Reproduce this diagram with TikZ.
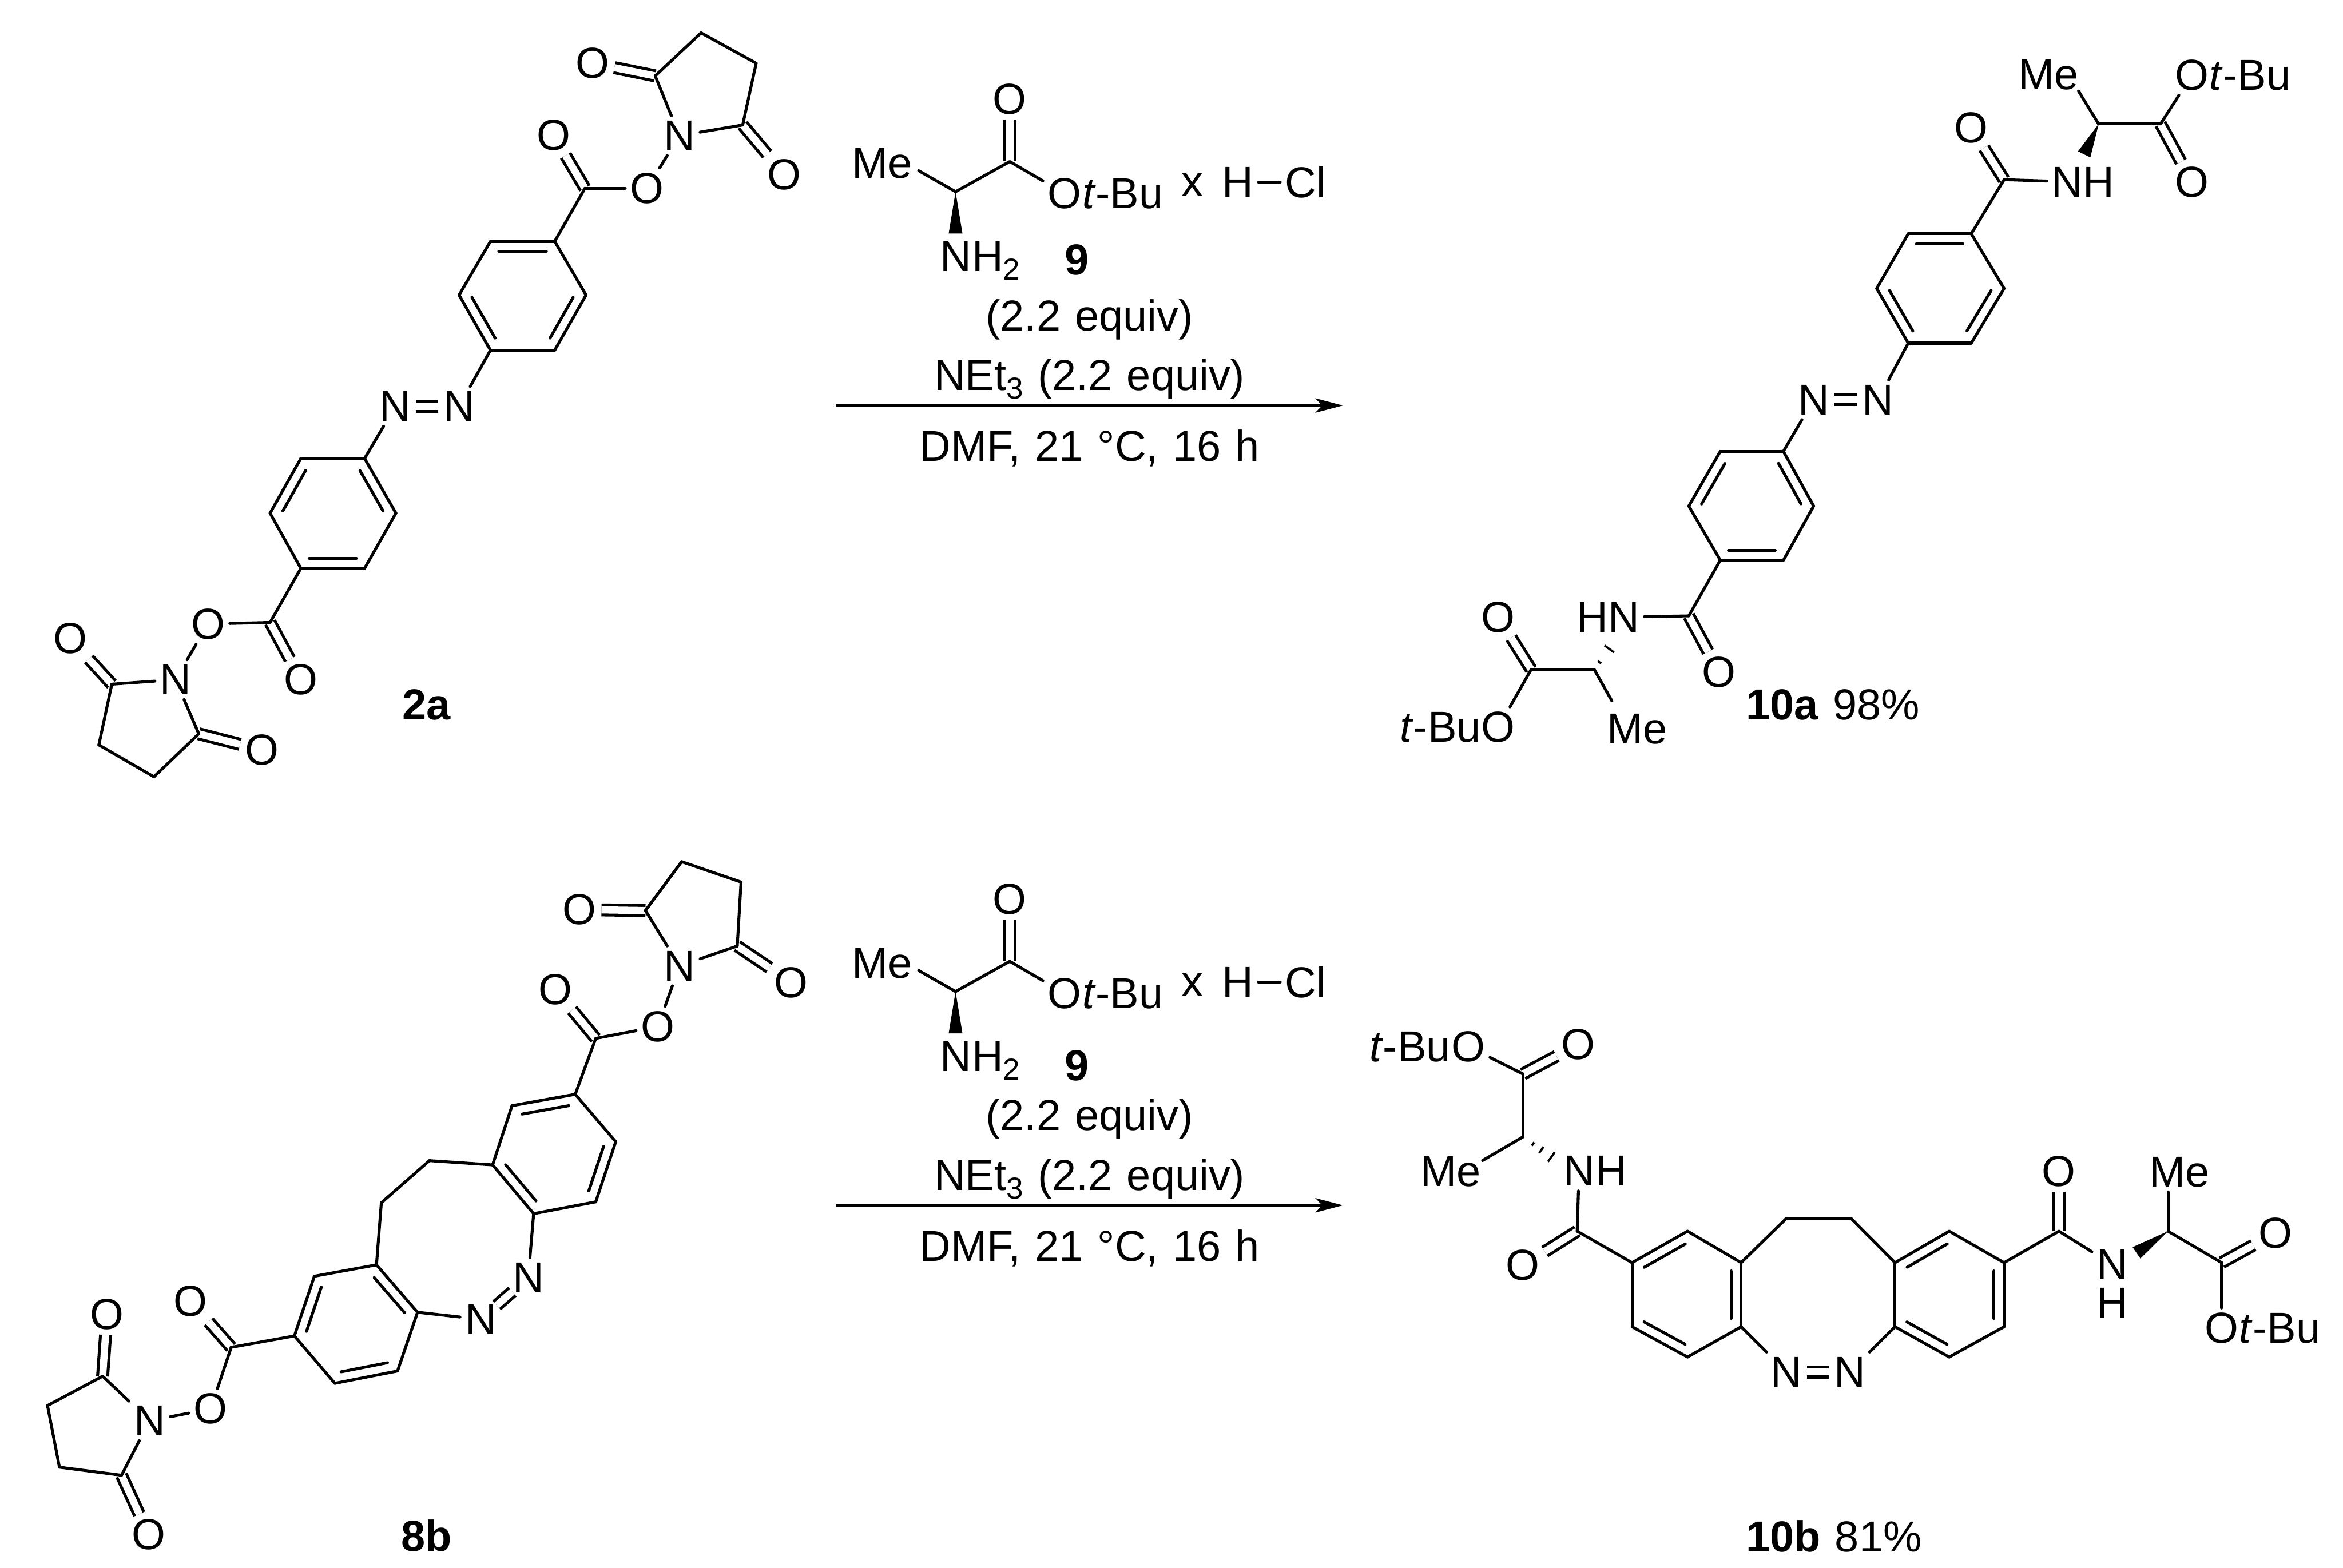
\documentclass[tikz,border=0pt]{standalone}
\usepackage{fontspec}
\setmainfont[WordSpace=1.2]{Liberation Sans}
\usetikzlibrary{calc,arrows.meta}
\newcommand\subsc[1]{\raisebox{-0.2em}{\fontsize{16.3}{16}\selectfont #1}}
\tikzset{
  bond/.style={line width=0.055cm,line cap=round,line join=round},
  dbl/.style={line width=0.055cm,line cap=butt,double=white,double distance=0.135cm},
  atom/.style={font=\fontsize{23.3}{26}\selectfont,inner sep=2.5pt},
  tailr/.style={font=\fontsize{23.3}{26}\selectfont,inner sep=0pt,anchor=base west,xshift=-2.5pt},
  taill/.style={font=\fontsize{23.3}{26}\selectfont,inner sep=0pt,anchor=base east,xshift=2.5pt},
  txt/.style={font=\fontsize{23.3}{26}\selectfont,inner sep=0pt,anchor=base},
  txtw/.style={font=\fontsize{23.3}{26}\selectfont,inner sep=0pt,anchor=base west},
  rxn/.style={line width=0.05cm,-{Stealth[length=0.52cm,width=0.27cm,inset=0.13cm]}},
  zA/.style={x=0.010204cm,y=-0.0095663cm},
  zB/.style={x=0.010204cm,y=-0.0089541cm},
  zC/.style={x=0.011913cm,y=-0.0095663cm},
  zD/.style={x=0.011913cm,y=-0.0074235cm},
  zE/.style={x=0.0066964cm,y=-0.005102cm},
}
\newcommand\innerb[2]{\draw[bond] ($(#1)!0.13!(#2)!0.19cm!90:(#2)$) -- ($(#1)!0.87!(#2)!0.19cm!90:(#2)$);}
\newcommand\wedgeb[3]{\fill (#1) -- ($(#2)!#3!90:(#1)$) -- ($(#2)!#3!-90:(#1)$) -- cycle;}
\newcommand\hashb[3]{\foreach \t in {#3}{\draw[line width=0.04cm] ($(#1)!\t!(#2)!{\t*0.13cm}!90:(#2)$) -- ($(#1)!\t!(#2)!{\t*0.13cm}!-90:(#2)$);}}
\newcommand\reagentblock[2]{%
  \foreach \n/\x/\y in {ca/382/515,cb/535/403,mee/278/437,wed/382/670,ax1/45/1308,ax2/1475/1308}
    {\coordinate (#1\n) at (\x,\y);}
  \node[atom] (#1me) at (175,410) {Me};
  \node[atom] (#1o) at (535,172) {O};
  \node[atom] (#1oe) at (690,522) {O};
  \node[tailr] (#1tb) at (#1oe.base east) {\textit{t}-Bu};
  \node[atom] (#1n) at (382,755) {N};
  \node[tailr] (#1h2) at (#1n.base east) {H\subsc{2}};
  \node[atom] (#1x) at (1050,490) {x};
  \node[atom] (#1h) at (1178,480) {H};
  \node[atom] (#1cl) at (1370,480) {Cl};
  \node[txt,font=\fontsize{23.3}{26}\selectfont\bfseries] (#1nine) at (725,#2) {9};
  \node[txt] (#1eq) at (760,1030) {(2.2 equiv)};
  \node[txt] (#1net) at (760,1252) {NEt\subsc{3} (2.2 equiv)};
  \node[txt] (#1dmf) at (760,1515) {DMF, 21 °C, 16 h};
  \draw[dbl] (#1cb) -- (#1o);
  \draw[bond] (#1mee) -- (#1ca) -- (#1cb) -- (#1oe);
  \wedgeb{#1ca}{#1wed}{0.13cm}
  \draw[bond] (#1h) -- (#1cl);
  \draw[rxn] (#1ax1) -- (#1ax2);
}
\begin{document}
\begin{tikzpicture}
\path[use as bounding box] (0,0) rectangle (44.28cm,-29.64cm);

% ---------- 2a ----------
\begin{scope}[zA]
\foreach \n/\x/\y in {a1/1213/150,a2/1298/65,a3/1400/125,a4/1375/247,a5/1083/372,
  a6/1027/477,a7/908/477,a8/850/583,a9/908/692,a10/1027/692,a11/1085/583,
  a12/675/906,a13/557/906,a14/500/1014,a15/557/1123,a16/675/1123,a17/733/1014,
  a18/500/1230,a19/207/1352,a20/183/1472,a21/285/1535,a22/368/1450}
  {\coordinate (\n) at (\x,\y);}
\node[atom] (an1) at (1258,268) {N};
\node[atom] (ao1) at (1097,125) {O};
\node[atom] (ao2) at (1452,345) {O};
\node[atom] (ao3) at (1198,372) {O};
\node[atom] (ao4) at (1025,267) {O};
\node[atom] (an2) at (850,803) {N};
\node[atom] (an3) at (732,803) {N};
\node[atom] (ao5) at (385,1233) {O};
\node[atom] (ao6) at (557,1343) {O};
\node[atom] (an4) at (325,1343) {N};
\node[atom] (ao7) at (130,1262) {O};
\node[atom] (ao8) at (485,1482) {O};
\node[txt,font=\fontsize{23.3}{26}\selectfont\bfseries] (alab) at (790,1422) {2a};
\foreach \a/\b in {a1/ao1,a4/ao2,a5/ao4,an2/an3,a18/ao6,a19/ao7,a22/ao8}
  {\draw[dbl] (\a) -- (\b);}
\foreach \a/\b in {an1/a1,a1/a2,a2/a3,a3/a4,a4/an1,an1/ao3,ao3/a5,a5/a6,
  a6/a7,a7/a8,a8/a9,a9/a10,a10/a11,a11/a6,a9/an2,an3/a12,
  a12/a13,a13/a14,a14/a15,a15/a16,a16/a17,a17/a12,a15/a18,a18/ao5,ao5/an4,
  an4/a19,a19/a20,a20/a21,a21/a22,a22/an4}
  {\draw[bond] (\a) -- (\b);}
\innerb{a6}{a7}\innerb{a8}{a9}\innerb{a10}{a11}
\innerb{a13}{a14}\innerb{a15}{a16}\innerb{a17}{a12}
\end{scope}

% ---------- 8b ----------
\begin{scope}[shift={(0cm,-15.6cm)},zB]
\foreach \n/\x/\y in {b1/1195/180,b2/1262/77,b3/1372/120,b4/1365/255,b5/1103/450,
  b6/1065/568,b7/948/592,b8/912/717,b9/988/820,b10/1103/795,b11/1140/668,
  b12/795/708,b13/706/797,
  b14/697/928,b15/582/952,b16/545/1078,b17/620/1178,b18/736/1152,b19/773/1028,
  b20/428/1102,b21/190/1163,b22/88/1225,b23/110/1355,b24/225/1372}
  {\coordinate (\n) at (\x,\y);}
\node[atom] (bn1) at (1258,297) {N};
\node[atom] (bo1) at (1073,178) {O};
\node[atom] (bo2) at (1465,332) {O};
\node[atom] (bo3) at (1218,425) {O};
\node[atom] (bo4) at (1028,347) {O};
\node[atom,inner sep=0pt] (bn2) at (978,955) {N};
\node[atom,inner sep=0pt] (bn3) at (890,1043) {N};
\node[atom] (bo5) at (390,1232) {O};
\node[atom] (bo6) at (353,1005) {O};
\node[atom] (bn4) at (277,1257) {N};
\node[atom] (bo7) at (198,1033) {O};
\node[atom] (bo8) at (275,1497) {O};
\node[txt,font=\fontsize{23.3}{26}\selectfont\bfseries] (blab) at (790,1532) {8b};
\foreach \a/\b in {b1/bo1,b4/bo2,b5/bo4,bn2/bn3,b20/bo6,b21/bo7,b24/bo8}
  {\draw[dbl] (\a) -- (\b);}
\foreach \a/\b in {bn1/b1,b1/b2,b2/b3,b3/b4,b4/bn1,bn1/bo3,bo3/b5,b5/b6,
  b6/b7,b7/b8,b8/b9,b9/b10,b10/b11,b11/b6,b8/b12,b12/b13,b13/b14,
  b14/b15,b15/b16,b16/b17,b17/b18,b18/b19,b19/b14,b16/b20,b20/bo5,bo5/bn4,
  bn4/b21,b21/b22,b22/b23,b23/b24,b24/bn4}
  {\draw[bond] (\a) -- (\b);}
\draw[bond,shorten >=0.09cm] (b9) -- (bn2);
\draw[bond,shorten >=0.09cm] (b19) -- (bn3);
\innerb{b6}{b7}\innerb{b8}{b9}\innerb{b10}{b11}
\innerb{b15}{b16}\innerb{b17}{b18}\innerb{b19}{b14}
\end{scope}

% ---------- 10a ----------
\begin{scope}[shift={(25.6cm,0cm)},zC]
\foreach \n/\x/\y in {c1/1180/245,c2/1278/245,c3/1030/355,c4/978/462,c5/878/462,c6/828/570,
  c7/878/678,c8/978/678,c9/1030/570,c10/680/892,c11/580/892,c12/530/1000,c13/580/1107,
  c14/680/1107,c15/728/1000,c16/530/1217,c17/380/1323,c18/280/1323,
  cme1/1148/180,cme2/408/1385,cw/1157/305,chs/408/1275}
  {\coordinate (\n) at (\x,\y);}
\node[atom] (cme) at (1100,148) {Me};
\node[atom] (co1) at (1328,148) {O};
\node[tailr] (ct1) at (co1.base east) {\textit{t}-Bu};
\node[atom] (co2) at (1328,360) {O};
\node[atom] (cnh1) at (1155,360) {NH};
\node[atom] (co3) at (978,252) {O};
\node[atom] (cn1) at (830,790) {N};
\node[atom] (cn2) at (728,790) {N};
\node[atom] (co4) at (578,1328) {O};
\node[atom] (cnh2) at (402,1220) {HN};
\node[atom] (co5) at (228,1220) {O};
\node[atom] (co6) at (228,1437) {O};
\node[taill] (ct2) at (co6.base west) {\textit{t}-Bu};
\node[atom] (cme3) at (448,1440) {Me};
\node[txtw] (clab) at (620,1422) {\textbf{10a} 98\%};
\foreach \a/\b in {c2/co2,c3/co3,cn1/cn2,c16/co4,c18/co5}
  {\draw[dbl] (\a) -- (\b);}
\foreach \a/\b in {cme1/c1,c1/c2,c2/co1,cnh1/c3,c3/c4,
  c4/c5,c5/c6,c6/c7,c7/c8,c8/c9,c9/c4,c7/cn1,cn2/c10,
  c10/c11,c11/c12,c12/c13,c13/c14,c14/c15,c15/c10,c13/c16,c16/cnh2,
  c17/c18,c18/co6,c17/cme2}
  {\draw[bond] (\a) -- (\b);}
\wedgeb{c1}{cw}{0.13cm}
\hashb{c17}{chs}{0.3,0.85}
\innerb{c4}{c5}\innerb{c6}{c7}\innerb{c8}{c9}
\innerb{c11}{c12}\innerb{c13}{c14}\innerb{c15}{c10}
\end{scope}

% ---------- 10b ----------
\begin{scope}[shift={(25.6cm,-18cm)},zD]
\foreach \n/\x/\y in {d1/267/310,d2/267/470,d3/353/710,d4/440/790,d5/528/710,d6/613/790,d7/613/953,d8/528/1030,d9/440/953,
  d10/685/677,d11/787/677,d12/857/790,d13/943/710,d14/1030/790,d15/1030/953,d16/943/1030,d17/857/953,
  d18/1117/710,d19/1290/710,d20/1375/790,
  dme1/203/530,dme2/1290/610,dhs/320/530,dw/1240/765}
  {\coordinate (\n) at (\x,\y);}
\node[atom] (do1) at (180,240) {O};
\node[taill] (dt1) at (do1.base west) {\textit{t}-Bu};
\node[atom] (do2) at (355,235) {O};
\node[atom] (dme) at (152,558) {Me};
\node[atom] (dn1) at (356,557) {N};
\node[tailr] (dh1) at (dn1.base east) {H};
\node[atom] (do3) at (267,797) {O};
\node[atom] (dn2) at (685,1068) {N};
\node[atom] (dn3) at (785,1068) {N};
\node[atom] (do4) at (1117,557) {O};
\node[atom] (dn4) at (1202,795) {N};
\node[atom] (dh2) at (1202,893) {H};
\node[atom] (dme3) at (1308,560) {Me};
\node[atom] (do5) at (1460,715) {O};
\node[atom] (do6) at (1375,957) {O};
\node[tailr] (dt2) at (do6.base east) {\textit{t}-Bu};
\node[txtw] (dlab) at (620,1525) {\textbf{10b} 81\%};
\foreach \a/\b in {d1/do2,d3/do3,dn2/dn3,d18/do4,d20/do5}
  {\draw[dbl] (\a) -- (\b);}
\foreach \a/\b in {do1/d1,d1/d2,d2/dme1,dn1/d3,d3/d4,
  d4/d5,d5/d6,d6/d7,d7/d8,d8/d9,d9/d4,d6/d10,d10/d11,d11/d12,d7/dn2,dn3/d17,
  d12/d13,d13/d14,d14/d15,d15/d16,d16/d17,d17/d12,d14/d18,d18/dn4,
  d19/dme2,d19/d20,d20/do6}
  {\draw[bond] (\a) -- (\b);}
\wedgeb{d19}{dw}{0.13cm}
\hashb{d2}{dhs}{0.3,0.55,0.85}
\innerb{d5}{d4}\innerb{d9}{d8}\innerb{d7}{d6}
\innerb{d13}{d12}\innerb{d17}{d16}\innerb{d15}{d14}
\end{scope}

% ---------- reagents ----------
\begin{scope}[shift={(15.5cm,-1cm)},zE]
\reagentblock{r}{822}
\end{scope}
\begin{scope}[shift={(15.5cm,-16.12cm)},zE]
\reagentblock{s}{845}
\end{scope}
\end{tikzpicture}
\end{document}
